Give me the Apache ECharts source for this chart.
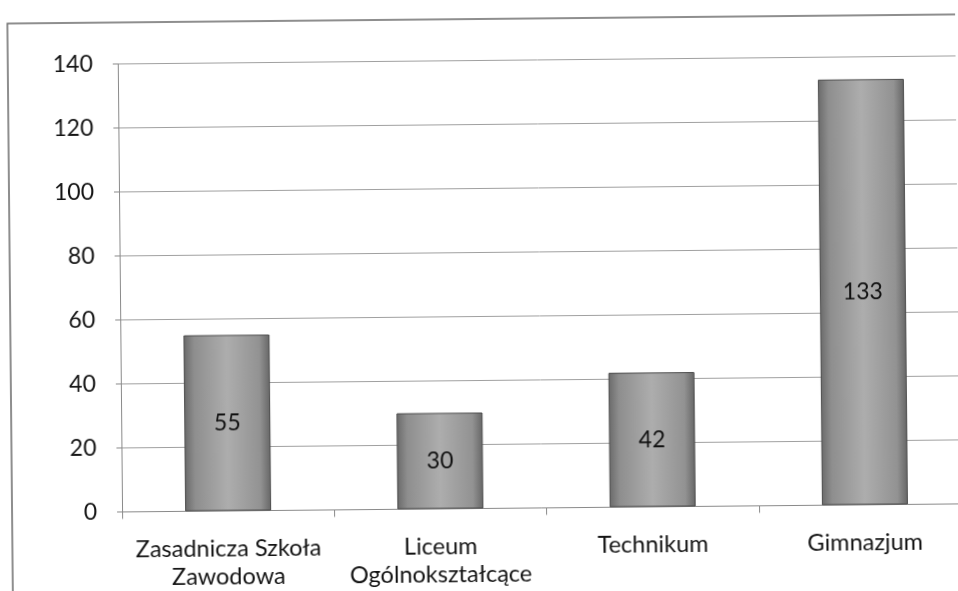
<!DOCTYPE html>
<html>
<head>
<meta charset="utf-8">
<script src="https://cdn.jsdelivr.net/npm/echarts@6/dist/echarts.min.js"></script>
<style>
  html, body { margin: 0; padding: 0; background: #ffffff; overflow: hidden; }
  #chart { width: 958px; height: 591px; transform: rotate(-0.55deg); transform-origin: 480px 295px; }
</style>
</head>
<body>
<div id="chart"></div>
<script>
// Number of pupils by school type
const categories = ['Zasadnicza Szkoła\nZawodowa', 'Liceum\nOgólnokształcące', 'Technikum', 'Gimnazjum'];
const values = [55, 30, 42, 133];
const yTicks = { min: 0, max: 140, interval: 20 };

const chart = echarts.init(document.getElementById('chart'), null, { renderer: 'canvas' });

const barFill = new echarts.graphic.LinearGradient(0, 0, 1, 0, [
  { offset: 0, color: '#6a6a6a' },
  { offset: 0.12, color: '#8e8e8e' },
  { offset: 0.5, color: '#adadad' },
  { offset: 0.88, color: '#929292' },
  { offset: 1, color: '#666666' }
]);

const textFont = 'Lato, "Liberation Sans", sans-serif';

chart.setOption({
  backgroundColor: '#ffffff',
  animation: false,
  graphic: [{
    type: 'rect',
    shape: { x: 10, y: 19, width: 1000, height: 640 },
    style: { fill: 'none', stroke: '#6a6a6a', lineWidth: 1.5 },
    silent: true
  }],
  grid: { left: 120, right: -11, top: 60.5, bottom: 82.5, outerBoundsMode: 'none', containLabel: false },
  xAxis: {
    type: 'category',
    data: categories,
    axisLine: { show: true, lineStyle: { color: '#8a8a8a', width: 1 } },
    axisTick: { show: true, length: 7, lineStyle: { color: '#8a8a8a' } },
    axisLabel: {
      interval: 0,
      margin: 24,
      color: '#141414',
      fontFamily: textFont,
      fontSize: 23.5,
      lineHeight: 28
    },
    splitLine: { show: false }
  },
  yAxis: {
    type: 'value',
    min: yTicks.min,
    max: yTicks.max,
    interval: yTicks.interval,
    axisLine: { show: true, lineStyle: { color: '#8a8a8a', width: 1 } },
    axisTick: { show: true, length: 5, lineStyle: { color: '#8a8a8a' } },
    axisLabel: {
      margin: 25,
      color: '#141414',
      fontFamily: textFont,
      fontSize: 23
    },
    splitLine: { show: true, lineStyle: { color: '#a0a0a0', width: 1 } }
  },
  series: [{
    type: 'bar',
    data: values,
    barWidth: 86,
    itemStyle: { color: barFill, borderColor: '#4a4a4a', borderWidth: 1 },
    label: {
      show: true,
      position: 'inside',
      color: '#111111',
      fontFamily: textFont,
      fontSize: 23
    }
  }]
});
</script>
</body>
</html>
